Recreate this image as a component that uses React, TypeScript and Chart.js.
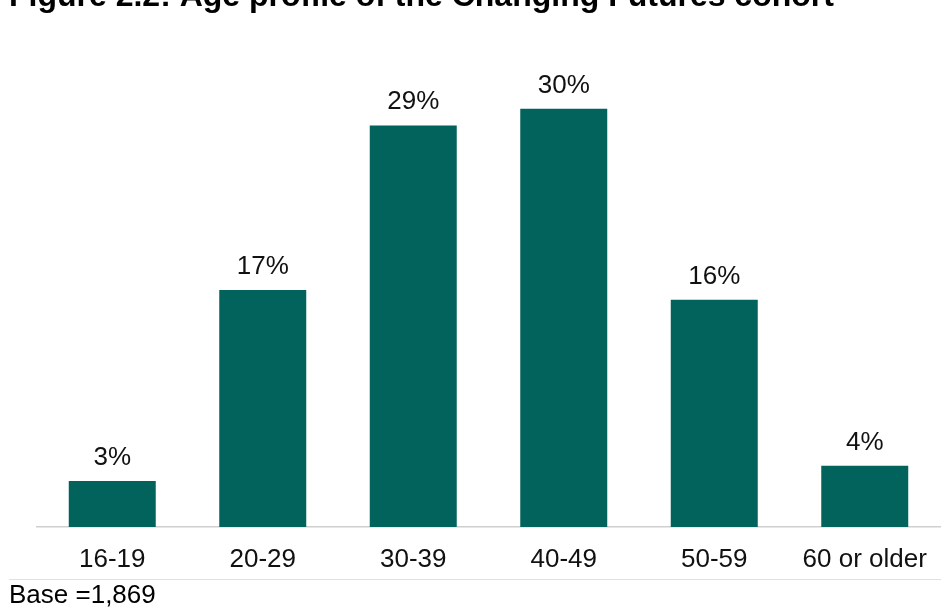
import React, { useEffect, useRef } from "react";
import { Chart, registerables } from "chart.js";

Chart.register(...registerables);

const title = "Figure 2.2: Age profile of the Changing Futures cohort";
const baseNote = "Base =1,869";
const categories = ["16-19", "20-29", "30-39", "40-49", "50-59", "60 or older"];
const values = [3.3, 17.0, 28.8, 30.0, 16.3, 4.4];
const valueLabels = ["3%", "17%", "29%", "30%", "16%", "4%"];

const FONT = "'Liberation Sans', Arial, sans-serif";
const BAR_COLOR = "#02625C";

export default function App() {
  const ref = useRef<HTMLCanvasElement | null>(null);

  useEffect(() => {
    if (!ref.current) return;
    const extras = {
      id: "extras",
      afterDraw(chart: any) {
        const ctx = chart.ctx;
        ctx.save();
        // title
        ctx.fillStyle = "#000";
        ctx.textAlign = "left";
        ctx.textBaseline = "alphabetic";
        ctx.font = `bold 32px ${FONT}`;
        ctx.fillText(title, 9, 6);
        // data labels
        ctx.fillStyle = "#111";
        ctx.font = `26px ${FONT}`;
        ctx.textAlign = "center";
        const meta = chart.getDatasetMeta(0);
        meta.data.forEach((bar: any, i: number) => {
          ctx.fillText(valueLabels[i], bar.x, bar.y - 16);
        });
        // separator line
        ctx.strokeStyle = "#F5F060";
        ctx.lineWidth = 1;
        ctx.beginPath();
        ctx.moveTo(9, 579.5);
        ctx.lineTo(941, 579.5);
        ctx.stroke();
        // base note
        ctx.textAlign = "left";
        ctx.fillStyle = "#000";
        ctx.font = `26px ${FONT}`;
        ctx.fillText(baseNote, 9, 603);
        ctx.restore();
      },
    };

    const chart = new Chart(ref.current, {
      type: "bar",
      data: {
        labels: categories,
        datasets: [
          {
            data: values,
            backgroundColor: BAR_COLOR,
            borderWidth: 0,
            barPercentage: 0.578,
            categoryPercentage: 1,
          },
        ],
      },
      options: {
        responsive: false,
        animation: false,
        layout: { padding: { left: 37, right: 1, top: 39, bottom: 0 } },
        plugins: {
          legend: { display: false },
          tooltip: { enabled: false },
          title: { display: false },
        },
        scales: {
          x: {
            grid: { display: false, drawTicks: false },
            border: { display: true, color: "#D0D0D0", width: 1.5 },
            ticks: {
              color: "#111",
              padding: 17.5,
              maxRotation: 0,
              autoSkip: false,
              font: { family: FONT, size: 26 },
            },
            afterFit: (s: any) => {
              s.height = 81;
              s.paddingLeft = 0;
              s.paddingRight = 0;
            },
          },
          y: {
            display: false,
            min: 0,
            max: 35,
          },
        },
      },
      plugins: [extras],
    });
    return () => chart.destroy();
  }, []);

  return (
    <div style={{ position: "absolute", left: 0, top: 0, width: 941, height: 608, background: "#fff" }}>
      <canvas ref={ref} width={941} height={608} style={{ display: "block" }} />
    </div>
  );
}
